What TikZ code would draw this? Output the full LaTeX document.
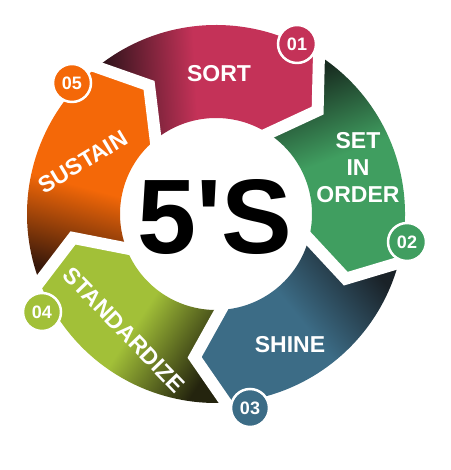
\documentclass[tikz,border=0pt]{standalone}
\usepackage{fontspec}
\newfontfamily\lsans{Liberation Sans}
\definecolor{sortC}{RGB}{196,50,88}
\definecolor{sortD}{RGB}{40,18,24}
\definecolor{greenC}{RGB}{64,158,96}
\definecolor{greenD}{RGB}{24,44,32}
\definecolor{shineC}{RGB}{60,108,134}
\definecolor{shineD}{RGB}{26,34,40}
\definecolor{stdC}{RGB}{162,192,56}
\definecolor{stdD}{RGB}{36,36,14}
\definecolor{susC}{RGB}{244,104,8}
\definecolor{susD}{RGB}{56,24,10}
\pgfdeclareverticalshading{sortsh}{100bp}{color(0bp)=(sortD); color(25bp)=(sortD); color(47bp)=(sortC); color(100bp)=(sortC)}
\pgfdeclareverticalshading{greensh}{100bp}{color(0bp)=(greenD); color(25bp)=(greenD); color(47bp)=(greenC); color(100bp)=(greenC)}
\pgfdeclareverticalshading{shinesh}{100bp}{color(0bp)=(shineD); color(25bp)=(shineD); color(49bp)=(shineC); color(100bp)=(shineC)}
\pgfdeclareverticalshading{stdsh}{100bp}{color(0bp)=(stdD); color(25bp)=(stdD); color(49bp)=(stdC); color(100bp)=(stdC)}
\pgfdeclareverticalshading{sussh}{100bp}{color(0bp)=(susD); color(25bp)=(susD); color(47bp)=(susC); color(100bp)=(susC)}
\begin{document}
\begin{tikzpicture}[x=1pt,y=1pt,
  lbl/.style={text=white, font=\lsans\bfseries\fontsize{23}{27}\selectfont, align=center},
  num/.style={circle, draw=white, line width=2.5pt, minimum size=38pt, inner sep=0pt, text=white, font=\lsans\bfseries\fontsize{18}{18}\selectfont},
  gap/.style={white, line width=12pt, line join=miter, shorten <=-12pt, shorten >=-12pt}]
\useasboundingbox (0,0) rectangle (450,470);
\fill[white] (0,0) rectangle (450,470);
\coordinate (C) at (216,256);
\def\ro{189}
\def\ri{96}
\def\rm{145}
\begin{scope}[shift={(C)}]
% SORT
\shade[shading=sortsh, shading angle=-87]
 (129:\ro) arc[start angle=129, end angle=57, radius=\ro] -- (45.5:\rm) -- (57:\ri)
 arc[start angle=57, end angle=129, radius=\ri] -- (117.5:\rm) -- cycle;
% SET IN ORDER
\shade[shading=greensh, shading angle=-159]
 (57:\ro) arc[start angle=57, end angle=-15, radius=\ro] -- (-26.5:\rm) -- (-15:\ri)
 arc[start angle=-15, end angle=57, radius=\ri] -- (45.5:\rm) -- cycle;
% SHINE
\shade[shading=shinesh, shading angle=129]
 (-15:\ro) arc[start angle=-15, end angle=-87, radius=\ro] -- (-98.5:\rm) -- (-87:\ri)
 arc[start angle=-87, end angle=-15, radius=\ri] -- (-26.5:\rm) -- cycle;
% STANDARDIZE
\shade[shading=stdsh, shading angle=57]
 (-87:\ro) arc[start angle=-87, end angle=-159, radius=\ro] -- (-170.5:\rm) -- (-159:\ri)
 arc[start angle=-159, end angle=-87, radius=\ri] -- (-98.5:\rm) -- cycle;
% SUSTAIN
\shade[shading=sussh, shading angle=-15]
 (-159:\ro) arc[start angle=-159, end angle=-231, radius=\ro] -- (-242.5:\rm) -- (-231:\ri)
 arc[start angle=-231, end angle=-159, radius=\ri] -- (-170.5:\rm) -- cycle;
% gaps
\foreach \t in {57,-15,-87,-159,-231}{
  \draw[gap] (\t:\ro) -- (\t-11.5:\rm) -- (\t:\ri);
}
\end{scope}
% labels
\node[lbl] (sort) at (219,396) {SORT};
\node[lbl] (order) at (358,302) {SET\\IN\\ORDER};
\node[lbl] (shine) at (290,125) {SHINE};
\node[lbl, rotate=31] (sustain) at (83,308) {SUSTAIN};
\node[lbl, rotate=-46] (std) at (124,140) {STANDARDIZE};
\node[text=black, font=\lsans\bfseries\fontsize{106}{106}\selectfont, inner sep=0pt] (five) at (215,253) {5'S};
% number badges
\node[num, fill=sortC] (n1) at (297,426) {01};
\node[num, fill=greenC] (n2) at (407,228) {02};
\node[num, fill=shineC] (n3) at (250,62) {03};
\node[num, fill=stdC] (n4) at (42,158) {04};
\node[num, fill=susC] (n5) at (72,387) {05};
\end{tikzpicture}
\end{document}
